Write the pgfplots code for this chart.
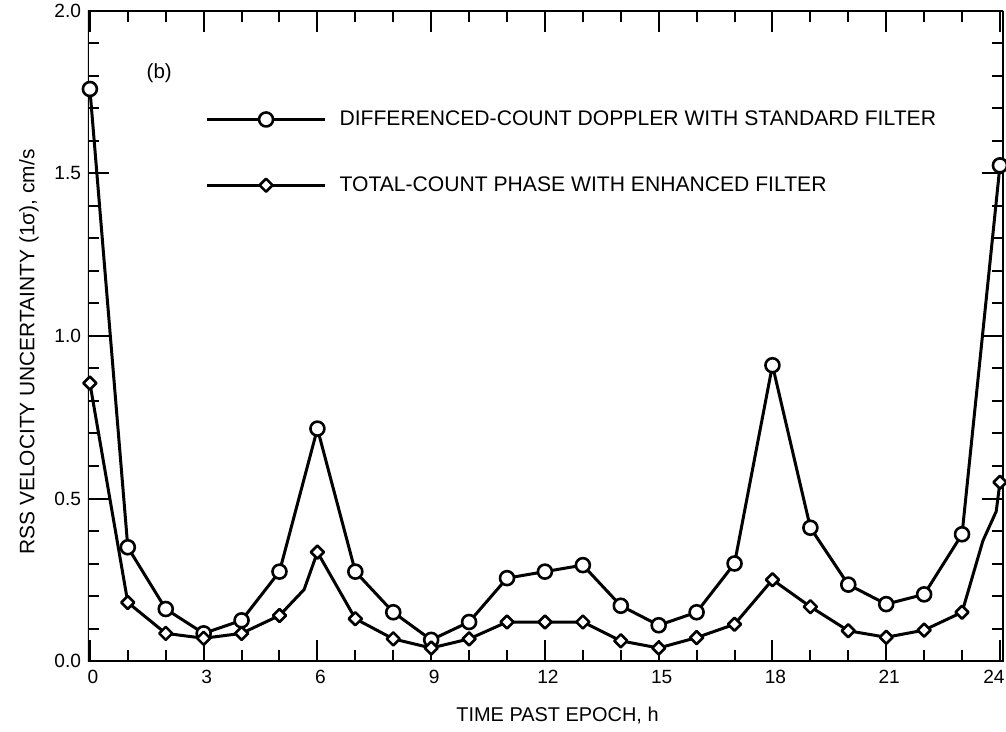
\documentclass[border=0pt]{standalone}
\usepackage{fontspec}
\setmainfont{Liberation Sans}
\usepackage{pgfplots}
\pgfplotsset{compat=1.18}

\begin{document}
\begin{tikzpicture}
\begin{axis}[
    scale only axis,
    width=457.5bp, height=325bp,
    xmin=-0.05, xmax=24.08, ymin=0, ymax=2.0,
    tick pos=both,
    xtick={0,3,...,24}, minor xtick={0,1,...,24},
    xticklabels={0,3,6,9,12,15,18,21,\hspace{-9bp}24},
    ytick={0,0.5,...,2.0}, minor ytick={0,0.1,...,2.0},
    tick align=inside,
    major tick length=10.5bp, minor tick length=5.5bp,
    every tick/.style={black, line width=1bp},
    tick label style={font=\fontsize{9.6}{11}\selectfont},
    yticklabel style={/pgf/number format/.cd, fixed, fixed zerofill, precision=1, assume math mode=true},
    xticklabel style={xshift=1.5bp, yshift=-1bp},
    xlabel={TIME PAST EPOCH, h},
    ylabel={RSS VELOCITY UNCERTAINTY (1σ), cm/s},
    label style={font=\fontsize{10.5}{12}\selectfont},
    every axis x label/.style={at={(rel axis cs:0.5,0)}, anchor=center, xshift=6bp, yshift=-27.5bp},
    ylabel style={yshift=1bp, xshift=-8bp},
    legend style={at={(axis cs:3.04,1.707)}, anchor=north west, draw=none, fill=none,
        inner sep=0pt, row sep=20bp, column sep=4.5bp, font=\fontsize{10.6}{12}\selectfont},
    legend cell align=left,
    legend image code/.code={
        \draw[#1, mark indices={2}] plot coordinates {(0bp,0bp) (29.5bp,0bp) (59bp,0bp)};
    },
    every axis plot/.append style={line width=1.5bp, line join=round, black},
]
\addplot[mark=*, mark size=3.5bp, mark options={fill=white, line width=1.3bp}] coordinates {
    (0,1.76) (1,0.35) (2,0.16) (3,0.085) (4,0.125) (5,0.275) (6,0.715)
    (7,0.275) (8,0.15) (9,0.065) (10,0.12) (11,0.255) (12,0.275) (13,0.295)
    (14,0.17) (15,0.11) (16,0.15) (17,0.30) (18,0.91) (19,0.41) (20,0.235)
    (21,0.175) (22,0.205) (23,0.39) (24,1.525)
};
\addlegendentry{DIFFERENCED-COUNT DOPPLER WITH STANDARD FILTER}
\addplot[mark=square*, mark size=2.3bp, mark options={rotate=45, fill=white, line width=1.3bp},
    mark indices={1,2,3,4,5,6,8,9,10,11,12,13,14,15,16,17,18,19,20,21,22,23,24,25,28}] coordinates {
    (0,0.855) (1,0.18) (2,0.085) (3,0.07) (4,0.085) (5,0.14) (5.65,0.22) (6,0.335)
    (7,0.13) (8,0.068) (9,0.04) (10,0.068) (11,0.12) (12,0.12) (13,0.12)
    (14,0.062) (15,0.04) (16,0.072) (17,0.113) (18,0.25) (19,0.167) (20,0.093)
    (21,0.073) (22,0.095) (23,0.15) (23.55,0.37) (23.9,0.46) (24,0.55)
};
\addlegendentry{TOTAL-COUNT PHASE WITH ENHANCED FILTER}
\node[anchor=center, font=\fontsize{10.3}{12}\selectfont] at (axis cs:1.83,1.81) {(b)};
\draw[line width=1.5bp] (rel axis cs:0,0) rectangle (rel axis cs:1,1);
\coordinate (ll) at (rel axis cs:0,0);
\coordinate (ur) at (rel axis cs:1,1);
\end{axis}
\pgfresetboundingbox
\path[use as bounding box] ([shift={(-44bp,-35.5bp)}]ll) rectangle ([shift={(1.5bp,5.5bp)}]ur);
\end{tikzpicture}
\end{document}
